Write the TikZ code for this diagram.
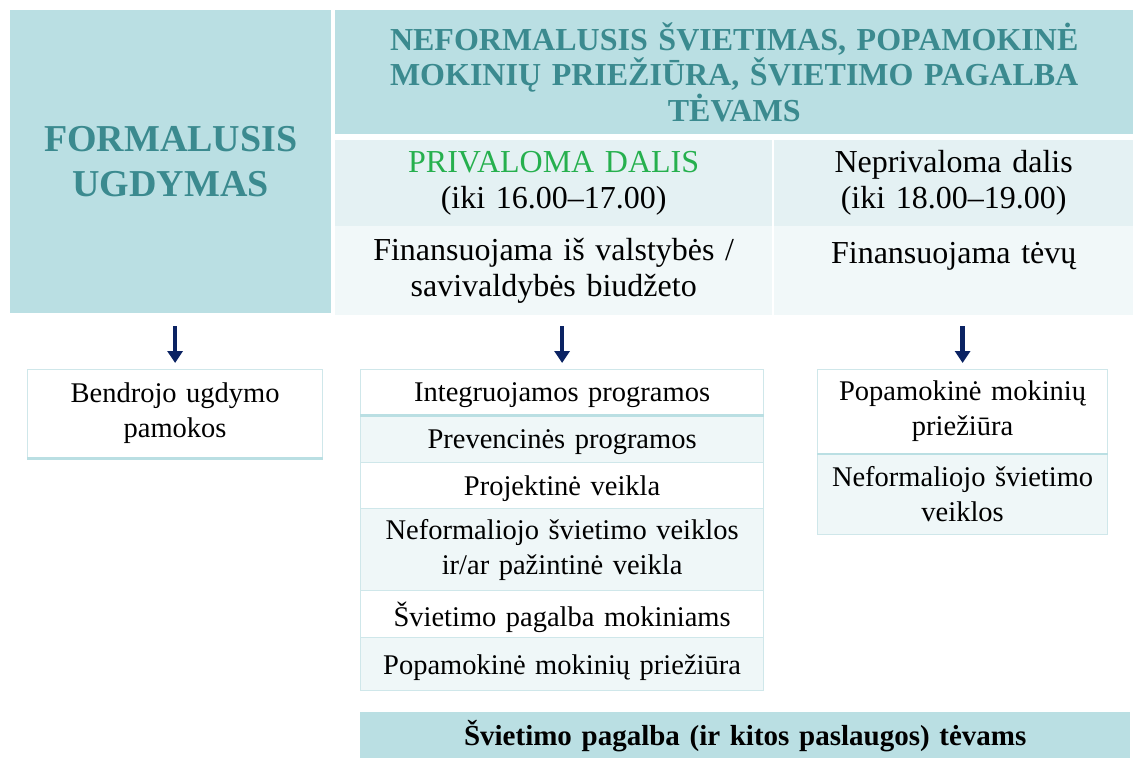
\documentclass[tikz,border=0pt]{standalone}
\usepackage{fontspec}
\setmainfont{Liberation Serif}
\usetikzlibrary{arrows.meta}
\definecolor{hdr}{HTML}{BADFE3}
\definecolor{hdrtext}{HTML}{3B8A8F}
\definecolor{rowa}{HTML}{E4F1F3}
\definecolor{rowb}{HTML}{F1F8F9}
\definecolor{listline}{HTML}{CFE7EA}
\definecolor{listfill}{HTML}{EFF7F8}
\definecolor{navy}{HTML}{0B2363}
\definecolor{grn}{HTML}{26B04E}
\begin{document}
\begin{tikzpicture}[x=1pt,y=-1pt,
  box/.style={anchor=north west, inner sep=0pt, align=center, rectangle},
  bigbox/.style={box, fill=hdr, text=hdrtext},
  rowtext/.style={font=\fontsize{32}{36}\selectfont},
  lcell/.style={box, draw=listline, line width=1.2pt, fill=white,
    font=\fontsize{28.5}{35}\selectfont},
  lalt/.style={lcell, fill=listfill},
  one/.style={text depth=0pt},
  sepline/.style={draw=hdr, line width=3pt},
  arr/.style={draw=navy, line width=4.5pt, -{Triangle[width=15pt,length=12pt]}}
]
\useasboundingbox (0,0) rectangle (1133,758);
\fill[white] (0,0) rectangle (1133,758);

% top block
\node[bigbox, minimum width=321pt, minimum height=303pt, text width=300pt,
  font=\bfseries\fontsize{38}{45}\selectfont] (formal) at (10,10)
  {FORMALUSIS\\UGDYMAS};
\node[bigbox, minimum width=798pt, minimum height=124pt, text width=760pt,
  font=\bfseries\fontsize{32}{35.5}\selectfont] (neform) at (335,10)
  {NEFORMALUSIS ŠVIETIMAS, POPAMOKINĖ\\MOKINIŲ PRIEŽIŪRA, ŠVIETIMO PAGALBA\\TĖVAMS};
\node[box, rowtext, fill=rowa, minimum width=437pt, minimum height=86pt, text width=420pt]
  (priv) at (335,140) {\textcolor{grn}{PRIVALOMA DALIS}\\(iki 16.00–17.00)};
\node[box, rowtext, fill=rowa, minimum width=359pt, minimum height=86pt, text width=350pt]
  (nepriv) at (774,140) {Neprivaloma dalis\\(iki 18.00–19.00)};
\node[box, rowtext, fill=rowb, minimum width=437pt, minimum height=89pt, text width=420pt]
  (finval) at (335,226) {Finansuojama iš valstybės /\\savivaldybės biudžeto};
\node[box, rowtext, fill=rowb, minimum width=359pt, minimum height=89pt, text width=350pt]
  (fintev) at (774,226) {Finansuojama tėvų\\\phantom{x}};

% left list
\node[lcell, minimum width=295pt, minimum height=88pt, text width=280pt]
  (bendr) at (27,369) {Bendrojo ugdymo\\pamokos};
\draw[sepline] (bendr.south west) -- (bendr.south east);

% middle list
\node[lcell, one, minimum width=403pt, minimum height=45pt, text width=395pt]
  (l1) at (360,369) {Integruojamos programos};
\node[lalt, one, minimum width=403pt, minimum height=48pt, text width=395pt]
  (l2) at (360,414) {Prevencinės programos};
\node[lcell, one, minimum width=403pt, minimum height=46pt, text width=395pt]
  (l3) at (360,462) {Projektinė veikla};
\node[lalt, minimum width=403pt, minimum height=82pt, text width=395pt]
  (l4) at (360,508) {Neformaliojo švietimo veiklos\\ir/ar pažintinė veikla};
\node[lcell, one, minimum width=403pt, minimum height=47pt, text width=395pt]
  (l5) at (360,590) {Švietimo pagalba mokiniams};
\node[lalt, one, minimum width=403pt, minimum height=53pt, text width=395pt]
  (l6) at (360,637) {Popamokinė mokinių priežiūra};
\draw[sepline] (l1.south west) -- (l1.south east);

% right list
\node[lcell, minimum width=290pt, minimum height=84pt, text width=280pt]
  (r1) at (817,369) {Popamokinė mokinių\\priežiūra};
\node[lalt, minimum width=290pt, minimum height=81pt, text width=280pt]
  (r2) at (817,453) {Neformaliojo švietimo\\veiklos};
\draw[sepline, line width=2pt] (r1.south west) -- (r1.south east);

% bottom bar
\node[box, fill=hdr, minimum width=770pt, minimum height=48pt, text width=760pt,
  font=\bfseries\fontsize{29}{34}\selectfont] (tevams) at (360,712)
  {Švietimo pagalba (ir kitos paslaugos) tėvams};

% arrows
\draw[arr, shorten <=13pt, shorten >=6pt] (formal.south -| bendr.north) -- (bendr.north);
\draw[arr, shorten <=11pt, shorten >=6pt] (finval.south -| l1.north) -- (l1.north);
\draw[arr, shorten <=11pt, shorten >=6pt] (fintev.south -| r1.north) -- (r1.north);
\end{tikzpicture}
\end{document}
